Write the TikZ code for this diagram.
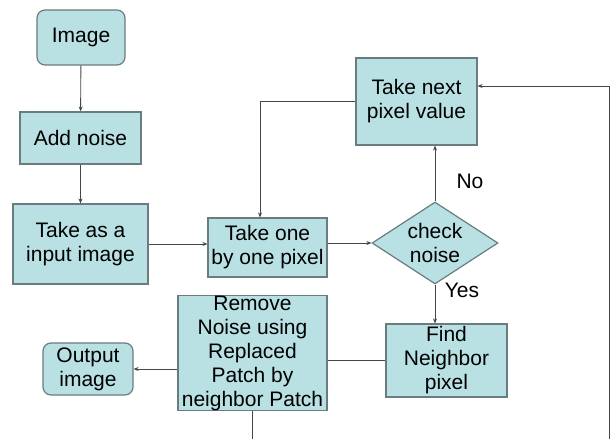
\documentclass[tikz,border=0pt]{standalone}
\usepackage{fontspec}
\setmainfont{Liberation Sans}
\usetikzlibrary{shapes.geometric,arrows.meta}
\definecolor{boxfill}{RGB}{185,224,227}
\definecolor{boxline}{RGB}{105,125,128}
\definecolor{wire}{RGB}{70,70,70}
\begin{document}
\begin{tikzpicture}[x=1pt,y=-1pt,
    every node/.style={font=\fontsize{21}{24}\selectfont, align=center},
    box/.style={draw=boxline, fill=boxfill, line width=1.2pt, inner sep=0pt},
    rbox/.style={box, rounded corners=8pt},
    decision/.style={box, diamond, shape aspect=1.54},
    flow/.style={draw=wire, line width=0.9pt, -{Stealth[length=5pt,width=4pt]}},
    link/.style={draw=wire, line width=0.9pt}]
    \useasboundingbox (0,0) rectangle (611,439);

    % Left column
    \node[rbox, minimum width=88pt, minimum height=55pt] (img) at (81,37.5) {Image};
    \node[box, minimum width=121pt, minimum height=52pt] (noise) at (80.5,138) {Add noise};
    \node[box, minimum width=135pt, minimum height=80pt] (input) at (80.5,244) {Take as a\\input image};

    % Pixel loop
    \node[box, minimum width=119pt, minimum height=59pt] (onebyone) at (267.5,247.5) {Take one\\by one pixel};
    \node[decision, minimum width=126pt, minimum height=82pt] (check) at (435,243) {check\\noise};
    \node[box, minimum width=121pt, minimum height=87pt] (next) at (416.5,101.5) {Take next\\pixel value};
    \node[box, minimum width=121pt, minimum height=73pt] (find) at (446.5,360.5) {Find\\Neighbor\\pixel};

    % Bottom row
    \node[box, minimum width=149pt, minimum height=112pt] (remove) at (252.5,353) {Remove\\Noise using\\Replaced\\Patch by\\neighbor Patch};
    \node[rbox, minimum width=90pt, minimum height=52pt] (out) at (88,369) {Output\\image};

    % Labels
    \node (nolabel) at (470,181) {No};
    \node (yeslabel) at (462,290) {Yes};

    % Loose ends at the bottom edge
    \coordinate (loopbot) at (609,439);
    \coordinate (removebot) at (252.5,439);

    % Connectors
    \draw[flow] (img) -- (noise);
    \draw[flow] (noise) -- (input);
    \draw[flow] (input.east) -- (input.east -| onebyone.west);
    \draw[flow] (onebyone.east |- check.west) -- (check.west);
    \draw[flow] (check.north) -- (check.north |- next.south);
    \draw[flow] (check.south) -- (check.south |- find.north);
    \draw[flow] (next.west) -| ([xshift=-7.5pt]onebyone.north);
    \draw[flow] (loopbot) |- ([yshift=15.5pt]next.east);
    \draw[link] (find.west) -- (find.west -| remove.east);
    \draw[flow] (remove.west |- out.east) -- (out.east);
    \draw[link] (remove.south) -- (removebot);
\end{tikzpicture}
\end{document}
